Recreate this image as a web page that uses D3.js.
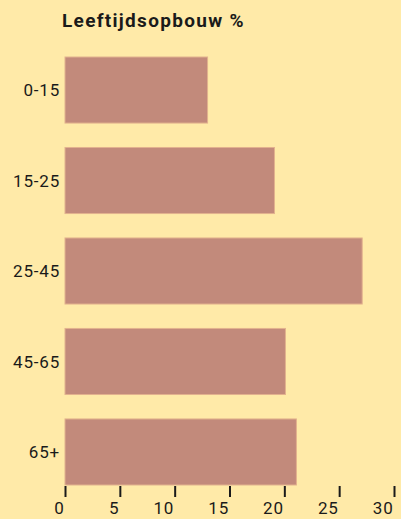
<!DOCTYPE html>
<meta charset="utf-8">
<script src="https://d3js.org/d3.v7.min.js"></script>
<style>
  body { margin: 0; background: #ffeaa8; }
  text { font-family: Roboto, "DejaVu Sans", sans-serif; fill: #1a1a1a; }
</style>
<div id="chart"></div>
<script>
// age groups and share in %
var groups = ["0-15", "15-25", "25-45", "45-65", "65+"];
var values = [13.0, 19.1, 27.1, 20.1, 21.1];
var ticks = [0, 5, 10, 15, 20, 25, 30];

var width = 401, height = 519;

var svg = d3.select("#chart")
  .append("svg")
    .attr("width", width)
    .attr("height", height);

svg.append("rect")
  .attr("width", width)
  .attr("height", height)
  .attr("fill", "#ffeaa8");

var x = d3.scaleLinear()
  .domain([0, 30])
  .range([65, 394]);

var y = d3.scaleBand()
  .domain(groups)
  .range([57, 485])
  .paddingInner(0.27)
  .paddingOuter(0);

// title
svg.append("text")
  .attr("x", 62)
  .attr("y", 27)
  .style("font-size", "19px")
  .style("font-weight", "bold")
  .style("letter-spacing", "1.3px")
  .text("Leeftijdsopbouw %");

// bars
svg.selectAll(".bar")
  .data(values)
  .enter()
  .append("rect")
    .attr("class", "bar")
    .attr("x", x(0))
    .attr("y", function(d, i) { return y(groups[i]); })
    .attr("width", function(d) { return x(d) - x(0); })
    .attr("height", y.bandwidth())
    .attr("fill", "#c28a7b")
    .attr("stroke", "#e2b28e")
    .attr("stroke-width", 1);

// category labels
svg.selectAll(".lab")
  .data(groups)
  .enter()
  .append("text")
    .attr("class", "lab")
    .attr("x", 60)
    .attr("y", function(d) { return y(d) + y.bandwidth() / 2; })
    .attr("dy", "0.36em")
    .attr("text-anchor", "end")
    .style("font-size", "17px")
    .style("letter-spacing", "0.8px")
    .text(function(d) { return d; });

// x axis
var xAxis = svg.append("g")
  .attr("transform", "translate(0,486)")
  .call(d3.axisBottom(x).tickValues(ticks).tickSize(11).tickPadding(5));

xAxis.select(".domain").remove();
xAxis.selectAll(".tick line")
  .attr("stroke", "#1a1a1a")
  .attr("stroke-width", 2);
// labels sit just left of their tick marks
xAxis.selectAll(".tick text")
  .attr("text-anchor", "end")
  .attr("dx", -1)
  .style("font-size", "17px")
  .style("letter-spacing", "0.8px")
  .attr("fill", "#1a1a1a");
</script>
